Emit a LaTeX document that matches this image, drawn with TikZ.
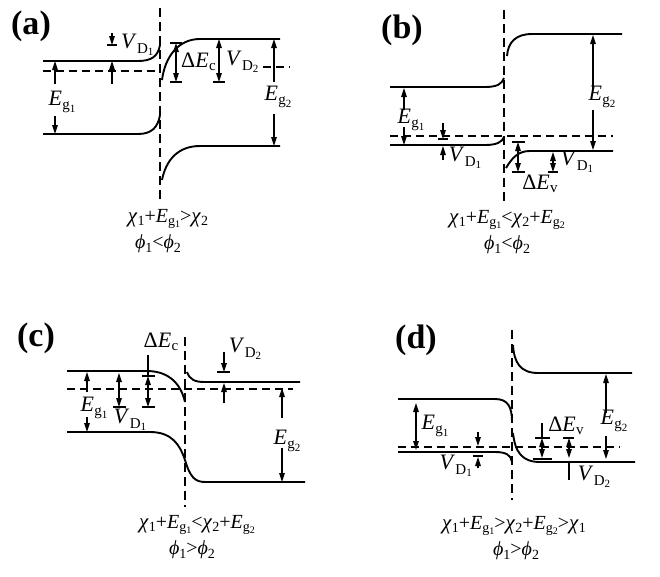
\documentclass[tikz,border=0pt]{standalone}
\usepackage{fontspec}
\setmainfont{Liberation Serif}
\usetikzlibrary{arrows.meta}
\newcommand{\fs}[1]{\fontsize{#1}{#1}\selectfont}
\newcommand{\vdl}[1]{\textit{V}\kern0.3pt\raisebox{-4.5pt}{\fs{15}D\raisebox{-2.5pt}{\fs{11}#1}}}
\newcommand{\egl}[1]{\textit{E}\kern0.3pt\raisebox{-4.5pt}{\fs{15}g\raisebox{-2.5pt}{\fs{11}#1}}}
\newcommand{\del}[1]{Δ\textit{E}\kern0.3pt\raisebox{-3.5pt}{\fs{15}#1}}
\newcommand{\cchi}[1]{{\fs{21}\textit{χ}}\raisebox{-3.5pt}{\fs{14}#1}}
\newcommand{\cphi}[1]{\textit{ϕ}\raisebox{-3.5pt}{\fs{14}#1}}
\newcommand{\ceg}[1]{\textit{E}\raisebox{-3.5pt}{\fs{14}g\raisebox{-2pt}{\fs{10}#1}}}
\tikzset{
  band/.style={line width=1.9pt},
  fermi/.style={line width=1.6pt, dash pattern=on 8pt off 5pt},
  vdash/.style={line width=1.6pt, dash pattern=on 9pt off 5pt},
  arr/.style={line width=1.2pt, -{Triangle[length=9pt,width=5.5pt]}},
  arrb/.style={line width=1.2pt, {Triangle[length=9pt,width=5.5pt]}-{Triangle[length=9pt,width=5.5pt]}},
  barl/.style={line width=1.5pt},
  lab/.style={inner sep=0pt, font=\fs{22}},
  captext/.style={inner sep=0pt, font=\fs{20}},
  plab/.style={inner sep=0pt, font=\bfseries\fs{34}}
}
\begin{document}
\begin{tikzpicture}[x=1pt,y=-1pt]
\path[use as bounding box] (0,0) rectangle (660,576);
%% ---------------- (a)
\node[plab] (la) at (31,26) {(a)};
\draw[vdash] (160,8) -- (160,201);
\draw[band] (43,61) -- (138,61) .. controls (152,61) and (158,56) .. (160,45);
\draw[band] (43,134) -- (138,134) .. controls (152,134) and (158,127) .. (160,115);
\draw[fermi] (43,71) -- (160,71);
\draw[fermi] (263,67) -- (290,67);
\draw[band] (162,80) .. controls (165,57) and (178,39) .. (200,39) -- (280,39);
\draw[band] (162,180) .. controls (166,160) and (178,146) .. (200,146) -- (280,146);
\draw[arr] (112,33) -- (112,45);
\draw[barl] (107,45) -- (117,45);
\node[lab,anchor=west] (avd1) at (121,45) {\vdl{1}};
\draw[arr] (112,84) -- (112,61);
\draw[arr] (55,84) -- (55,61);
\node[lab] (aeg1) at (62,102) {\egl{1}};
\draw[arr] (55,116) -- (55,134);
\draw[arrb] (176,43) -- (176,82);
\draw[barl] (170,43) -- (182,43);
\draw[barl] (170,82) -- (182,82);
\node[lab,anchor=west] (adec) at (181,62) {\del{c}};
\draw[arrb] (219,39) -- (219,82);
\draw[barl] (213,82) -- (225,82);
\node[lab,anchor=west] (avd2) at (226,62) {\vdl{2}};
\draw[arr] (274,82) -- (274,39);
\node[lab] (aeg2) at (278,97) {\egl{2}};
\draw[arr] (274,114) -- (274,146);
\node[captext] (ac1) at (168,219) {\cchi{1}+\ceg{1}>\cchi{2}};
\node[captext] (ac2) at (158,244) {\cphi{1}<\cphi{2}};
%% ---------------- (b)
\node[plab] (lb) at (402,30) {(b)};
\draw[vdash] (504,10) -- (504,201);
\draw[band] (390,87) -- (485,87) .. controls (497,87) and (502,84) .. (504,78);
\draw[band] (390,145) -- (485,145) .. controls (497,145) and (502,142) .. (504,137);
\draw[fermi] (390,136) -- (613,136);
\draw[band] (507,56) .. controls (508,42) and (516,34) .. (532,34) -- (622,34);
\draw[band] (506,168) .. controls (512,158) and (518,151) .. (530,151) -- (613,151);
\draw[arr] (404,110) -- (404,88);
\node[lab] (beg1) at (411,120) {\egl{1}};
\draw[arr] (404,127) -- (404,145);
\draw[arr] (443,123) -- (443,139);
\draw[barl] (438,139) -- (448,139);
\draw[arr] (443,160) -- (443,146);
\node[lab] (bvd1) at (465,158) {\vdl{1}};
\draw[arrb] (518,142) -- (518,172);
\draw[barl] (512,142) -- (525,142);
\draw[barl] (512,172) -- (525,172);
\node[lab] (bdev) at (540,184) {\del{v}};
\draw[arrb] (553,152) -- (553,172);
\draw[barl] (548,172) -- (558,172);
\node[lab] (bvd1r) at (577,162) {\vdl{1}};
\draw[arr] (593,90) -- (593,35);
\node[lab] (beg2) at (602,97) {\egl{2}};
\draw[arr] (593,110) -- (593,150);
\node[captext] (bc1) at (507,220) {\cchi{1}+\ceg{1}<\cchi{2}+\ceg{2}};
\node[captext] (bc2) at (507,245) {\cphi{1}<\cphi{2}};
%% ---------------- (c)
\node[plab] (lc) at (36,338) {(c)};
\draw[vdash] (185,337) -- (185,507);
\draw[band] (67,371) -- (147,371) .. controls (165,371) and (180,380) .. (185,402);
\draw[fermi] (67,389) -- (293,389);
\draw[band] (67,432) -- (150,432) .. controls (172,432) and (180,445) .. (185,460) .. controls (190,477) and (195,482) .. (205,482) -- (305,482);
\draw[band] (187,372) .. controls (190,380) and (195,382) .. (205,382) -- (300,382);
\draw[arr] (87,392) -- (87,372);
\node[lab] (ceg1) at (94,408) {\egl{1}};
\draw[arr] (87,417) -- (87,432);
\draw[arrb] (119,373) -- (119,407);
\draw[barl] (113,407) -- (126,407);
\node[lab] (cvd1) at (130,420) {\vdl{1}};
\draw[barl] (148,355) -- (148,376);
\draw[barl] (142,376) -- (155,376);
\draw[arrb] (148,376) -- (148,407);
\draw[barl] (142,407) -- (155,407);
\node[lab] (cdec) at (161,342) {\del{c}};
\draw[arr] (224,352) -- (224,372);
\draw[barl] (217,372) -- (230,372);
\draw[arr] (224,403) -- (224,383);
\node[lab] (cvd2) at (245,349) {\vdl{2}};
\draw[arr] (282,418) -- (282,388);
\node[lab] (ceg2) at (287,441) {\egl{2}};
\draw[arr] (282,448) -- (282,482);
\node[captext] (cc1) at (197,525) {\cchi{1}+\ceg{1}<\cchi{2}+\ceg{2}};
\node[captext] (cc2) at (192,550) {\cphi{1}>\cphi{2}};
%% ---------------- (d)
\node[plab] (ld) at (416,340) {(d)};
\draw[vdash] (512,330) -- (512,500);
\draw[band] (398,399) -- (495,399) .. controls (508,399) and (512,407) .. (512,422);
\draw[fermi] (398,447) -- (620,447);
\draw[band] (398,452) -- (495,452) .. controls (506,452) and (511,455) .. (512,462);
\draw[band] (513,345) .. controls (514,362) and (520,373) .. (538,373) -- (632,373);
\draw[band] (513,433) .. controls (515,452) and (522,462) .. (540,462) -- (635,462);
\draw[arrb] (416,403) -- (416,450);
\node[lab] (deg1) at (435,426) {\egl{1}};
\draw[arr] (478,432) -- (478,446);
\draw[barl] (473,456) -- (483,456);
\draw[arr] (478,468) -- (478,457);
\node[lab,anchor=east] (dvd1) at (472,466) {\vdl{1}};
\draw[barl] (542,423) -- (542,438);
\draw[barl] (535,438) -- (550,438);
\draw[arrb] (542,438) -- (542,458);
\draw[barl] (533,459) -- (552,459);
\node[lab] (ddev) at (566,426) {\del{v}};
\draw[barl] (563,438) -- (574,438);
\draw[arrb] (569,438) -- (569,458);
\draw[barl] (569,463) -- (569,480);
\node[lab] (dvd2) at (594,477) {\vdl{2}};
\draw[arr] (606,413) -- (606,374);
\node[lab] (deg2) at (614,421) {\egl{2}};
\draw[arr] (606,436) -- (606,459);
\node[captext] (dc1) at (514,526) {\cchi{1}+\ceg{1}>\cchi{2}+\ceg{2}>\cchi{1}};
\node[captext] (dc2) at (516,551) {\cphi{1}>\cphi{2}};
\end{tikzpicture}
\end{document}
